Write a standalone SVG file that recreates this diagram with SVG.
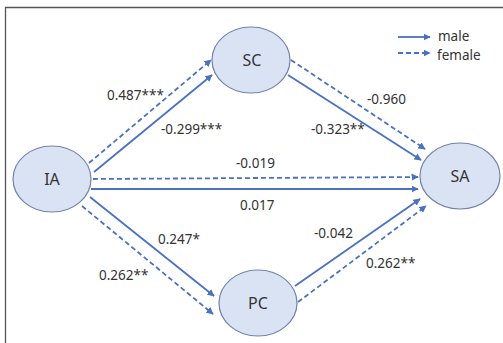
<svg xmlns="http://www.w3.org/2000/svg" width="503" height="343" viewBox="0 0 503 343">
  <style>
    .node ellipse { fill: #dae3f3; stroke: #7183a8; stroke-width: 1.2; }
    .node text { font-family: "Noto Sans", "Liberation Sans", sans-serif; font-size: 16px; fill: #333; text-anchor: middle; }
    .m { stroke: #4a72c0; stroke-width: 1.8; fill: none; marker-end: url(#ah); }
    .f { stroke: #4a72c0; stroke-width: 1.8; fill: none; stroke-dasharray: 5 3; marker-end: url(#ah); }
    .lbl { font-family: "Noto Sans", "Liberation Sans", sans-serif; font-size: 13.5px; fill: #333; }
    .leg { font-family: "Noto Sans", "Liberation Sans", sans-serif; font-size: 13.5px; fill: #333; }
  </style>
  <defs>
    <marker id="ah" viewBox="0 0 10 10" refX="9" refY="5" markerWidth="4" markerHeight="4" orient="auto" markerUnits="strokeWidth">
      <path d="M0,0 L10,5 L0,10 z" fill="#4a72c0"/>
    </marker>
  </defs>

  <rect width="503" height="343" fill="#fff"/>
  <!-- frame -->
  <path d="M5.5,343 V7.5 H503" fill="none" stroke="#555" stroke-width="1.3"/>

  <!-- connectors -->
  <g id="connectors">
    <line class="f" x1="89" y1="163" x2="211" y2="60"/>
    <line class="m" x1="94" y1="172" x2="212" y2="75"/>
    <line class="f" x1="291" y1="60" x2="425" y2="149"/>
    <line class="m" x1="288" y1="75" x2="421" y2="160"/>
    <line class="f" x1="93" y1="179" x2="418" y2="177"/>
    <line class="m" x1="91" y1="189" x2="418" y2="189"/>
    <line class="m" x1="90" y1="197" x2="214" y2="296"/>
    <line class="f" x1="82" y1="206" x2="213" y2="314"/>
    <line class="m" x1="295" y1="286" x2="420" y2="199"/>
    <line class="f" x1="298" y1="302" x2="426" y2="206"/>
  </g>

  <!-- path coefficients -->
  <g id="labels">
    <text class="lbl" x="107" y="100">0.487***</text>
    <text class="lbl" x="161" y="134">-0.299***</text>
    <text class="lbl" x="367" y="104">-0.960</text>
    <text class="lbl" x="311" y="134">-0.323**</text>
    <text class="lbl" x="236" y="168">-0.019</text>
    <text class="lbl" x="240" y="210">0.017</text>
    <text class="lbl" x="158" y="244">0.247*</text>
    <text class="lbl" x="99" y="280">0.262**</text>
    <text class="lbl" x="314" y="238">-0.042</text>
    <text class="lbl" x="366" y="268">0.262**</text>
  </g>

  <!-- nodes -->
  <g id="IA" class="node">
    <ellipse cx="52" cy="179" rx="39" ry="33"/>
    <text x="52" y="185">IA</text>
  </g>
  <g id="SC" class="node">
    <ellipse cx="251" cy="60" rx="39" ry="33"/>
    <text x="252" y="66">SC</text>
  </g>
  <g id="SA" class="node">
    <ellipse cx="460" cy="176" rx="40" ry="33"/>
    <text x="460" y="182">SA</text>
  </g>
  <g id="PC" class="node">
    <ellipse cx="258" cy="303" rx="39" ry="33"/>
    <text x="258" y="309">PC</text>
  </g>

  <!-- legend -->
  <g id="legend">
    <line class="m" x1="398" y1="37" x2="430" y2="37"/>
    <line class="f" x1="398" y1="53" x2="430" y2="53"/>
    <text class="leg" x="438" y="41">male</text>
    <text class="leg" x="437" y="60">female</text>
  </g>
</svg>
